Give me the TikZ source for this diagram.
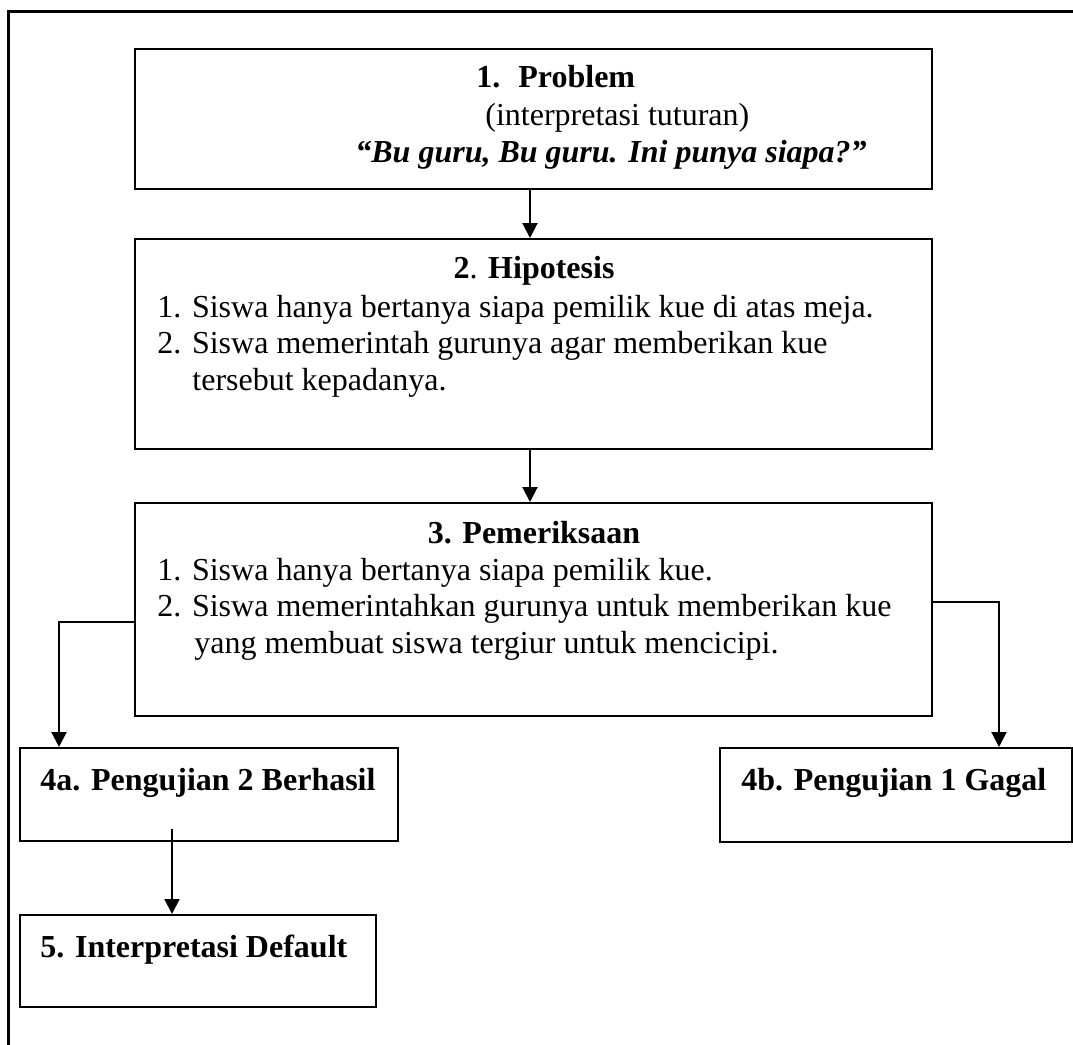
\documentclass[tikz,border=0pt]{standalone}
\usepackage{fontspec}
\setmainfont{Liberation Serif}
\usetikzlibrary{arrows.meta, positioning}

\begin{document}
\begin{tikzpicture}[x=0.5pt, y=-0.5pt,
    box/.style={draw, line width=1pt, inner sep=0pt},
    txt/.style={anchor=base west, inner sep=0pt, font=\fontsize{16pt}{18pt}\selectfont},
    ttl/.style={txt, anchor=base, font=\fontsize{16pt}{18pt}\selectfont\bfseries},
    arr/.style={line width=1pt, -{Triangle[length=7.5pt, width=7.5pt]}}]
        \useasboundingbox (0,0) rectangle (1073,1045);

        % Frame
        \draw[line width=1.5pt] (8,1060) -- (8,11) -- (1090,11);

        % Boxes
        \node[box, minimum width=398.5pt, minimum height=70pt] (problem) at (533.5,119) {};
        \node[box, minimum width=398.5pt, minimum height=105pt] (hipotesis) at (533.5,344) {};
        \node[box, minimum width=398.5pt, minimum height=106.5pt] (periksa) at (533.5,609.5) {};
        \node[box, minimum width=189pt, minimum height=46.5pt] (berhasil) at (209,794.5) {};
        \node[box, minimum width=176pt, minimum height=47pt] (gagal) at (896,795) {};
        \node[box, minimum width=178pt, minimum height=46pt] (default) at (198,961) {};

        % Texts
        \node[txt] (t1a) at (476,87) {\textbf{1.}\hspace{9pt}\textbf{Problem}};
        \node[txt] (t1b) at (485,125) {(interpretasi tuturan)};
        \node[txt] (t1c) at (355,162) {\textbf{\textit{“Bu guru, Bu guru. Ini punya siapa?”}}};

        \node[ttl] (t2a) at (534,278) {2\textmd{.} Hipotesis};
        \node[txt] (t2b) at (157,317) {1. Siswa hanya bertanya siapa pemilik kue di atas meja.};
        \node[txt] (t2c) at (157,353) {2. Siswa memerintah gurunya agar memberikan kue};
        \node[txt] (t2d) at (192,390) {tersebut kepadanya.};

        \node[ttl] (t3a) at (534,543) {3. Pemeriksaan};
        \node[txt] (t3b) at (157,580) {1. Siswa hanya bertanya siapa pemilik kue.};
        \node[txt] (t3c) at (157,616) {2. Siswa memerintahkan gurunya untuk memberikan kue};
        \node[txt] (t3d) at (194,653) {yang membuat siswa tergiur untuk mencicipi.};

        \node[txt] (t4a) at (40,790) {\textbf{4a. Pengujian 2 Berhasil}};
        \node[txt] (t4b) at (741,790) {\textbf{4b. Pengujian 1 Gagal}};
        \node[txt] (t5) at (40,957) {\textbf{5. Interpretasi Default}};

        % Connectors
        \draw[arr] ([xshift=-1.75pt]problem.south) -- ([xshift=-1.75pt]hipotesis.north);
        \draw[arr] ([xshift=-1.75pt]hipotesis.south) -- ([xshift=-1.75pt]periksa.north);
        \draw[arr] ([yshift=-6.25pt]periksa.west) -| ([xshift=20pt]berhasil.north west);
        \draw[arr] ([yshift=3.75pt]periksa.east) -| ([xshift=140pt]gagal.north west);
        \coordinate (tail) at (172,829);
        \draw[arr] (tail) -- (tail |- default.north);
      \end{tikzpicture}
\end{document}
